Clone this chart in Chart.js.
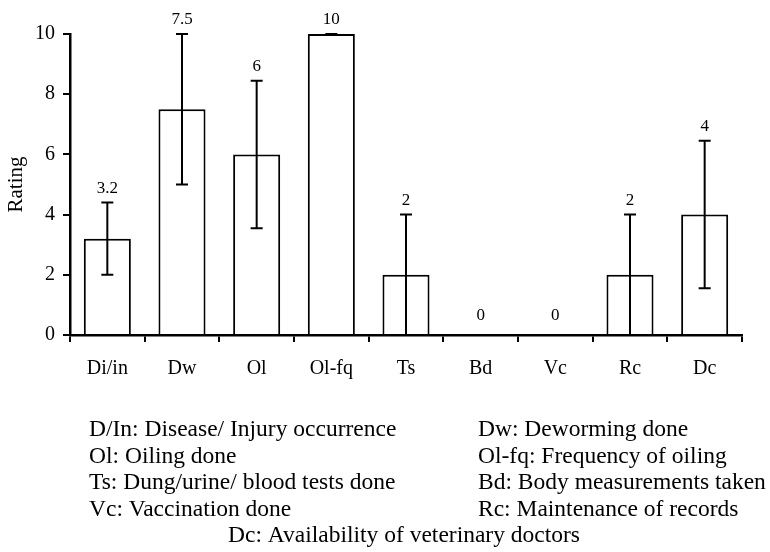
<!DOCTYPE html>
<html>
<head>
<meta charset="utf-8">
<script src="https://cdn.jsdelivr.net/npm/chart.js@4"></script>
<style>
  html, body { margin: 0; padding: 0; background: #fff; }
  #wrap { width: 770px; height: 552px; }
</style>
</head>
<body>
<div id="wrap"><canvas id="myChart" width="770" height="552"></canvas></div>
<script>
const categories = ["Di/in", "Dw", "Ol", "Ol-fq", "Ts", "Bd", "Vc", "Rc", "Dc"];
const ratings = [3.2, 7.5, 6, 10, 2, 0, 0, 2, 4];
const errHigh = [4.4, 10, 8.45, 10, 4, null, null, 4, 6.45];
const errLow = [2, 5, 3.55, 10, 0, null, null, 0, 1.55];
const yTicks = [0, 2, 4, 6, 8, 10];

const legendRows = [
  ["D/In: Disease/ Injury occurrence", "Dw: Deworming done"],
  ["Ol: Oiling done", "Ol-fq: Frequency of oiling"],
  ["Ts: Dung/urine/ blood tests done", "Bd: Body measurements taken"],
  ["Vc: Vaccination done", "Rc: Maintenance of records"],
];
const legendLast = "Dc: Availability of veterinary doctors";

const serif = "'Liberation Serif', 'Times New Roman', serif";

// error bars plus the value printed above each one
const errorBars = {
  id: "errorBars",
  afterDatasetsDraw(chart) {
    const ctx = chart.ctx;
    const y = chart.scales.y;
    const bars = chart.getDatasetMeta(0).data;
    ctx.save();
    ctx.strokeStyle = "#000";
    ctx.lineWidth = 2;
    bars.forEach((bar, i) => {
      const x = bar.x;
      if (errHigh[i] !== null) {
        const yh = y.getPixelForValue(errHigh[i]);
        const yl = y.getPixelForValue(errLow[i]);
        ctx.beginPath();
        ctx.moveTo(x, yh);
        ctx.lineTo(x, yl);
        ctx.moveTo(x - 6, yh);
        ctx.lineTo(x + 6, yh);
        ctx.moveTo(x - 6, yl);
        ctx.lineTo(x + 6, yl);
        ctx.stroke();
      }
      const top = errHigh[i] !== null ? errHigh[i] : ratings[i];
      const gap = errHigh[i] !== null ? 14 : 19;
      ctx.fillStyle = "#000";
      ctx.font = "17px " + serif;
      ctx.textAlign = "center";
      ctx.textBaseline = "middle";
      ctx.fillText(String(ratings[i]), x, y.getPixelForValue(top) - gap);
    });
    ctx.restore();
  },
};

// abbreviation key under the axis
const keyText = {
  id: "keyText",
  afterDraw(chart) {
    const ctx = chart.ctx;
    ctx.save();
    ctx.fillStyle = "#000";
    ctx.font = "23.5px " + serif;
    ctx.textBaseline = "middle";
    ctx.textAlign = "left";
    legendRows.forEach((row, r) => {
      const ty = 430 + r * 26.5;
      ctx.fillText(row[0], 89, ty);
      ctx.fillText(row[1], 478, ty);
    });
    ctx.textAlign = "center";
    ctx.fillText(legendLast, 404, 430 + 4 * 26.5);
    ctx.restore();
  },
};

new Chart(document.getElementById("myChart"), {
  type: "bar",
  data: {
    labels: categories,
    datasets: [
      {
        data: ratings,
        backgroundColor: "#fff",
        borderColor: "#000",
        borderWidth: 2,
        categoryPercentage: 1,
        barPercentage: 0.63,
      },
    ],
  },
  options: {
    responsive: false,
    animation: false,
    events: [],
    layout: { padding: { left: 0, right: 28, top: 34, bottom: 157 } },
    plugins: { legend: { display: false }, tooltip: { enabled: false } },
    scales: {
      x: {
        afterFit(scale) { scale.height = 60; },
        grid: { drawOnChartArea: false, drawTicks: true, tickLength: 7, color: "#000", lineWidth: 2, offset: true },
        border: { display: true, color: "#000", width: 2.5 },
        ticks: { color: "#000", font: { family: serif, size: 20 }, padding: 15, maxRotation: 0 },
      },
      y: {
        min: 0,
        max: 10,
        afterFit(scale) { scale.width = 70; },
        afterBuildTicks(scale) { scale.ticks = yTicks.map((v) => ({ value: v })); },
        grid: { drawOnChartArea: false, drawTicks: true, tickLength: 7, color: "#000", lineWidth: 2 },
        border: { display: true, color: "#000", width: 2.5 },
        ticks: { color: "#000", font: { family: serif, size: 20 }, padding: 8 },
        title: { display: true, text: "Rating", color: "#000", font: { family: serif, size: 21 }, padding: { top: 4, bottom: 0 } },
      },
    },
  },
  plugins: [errorBars, keyText],
});
</script>
</body>
</html>
